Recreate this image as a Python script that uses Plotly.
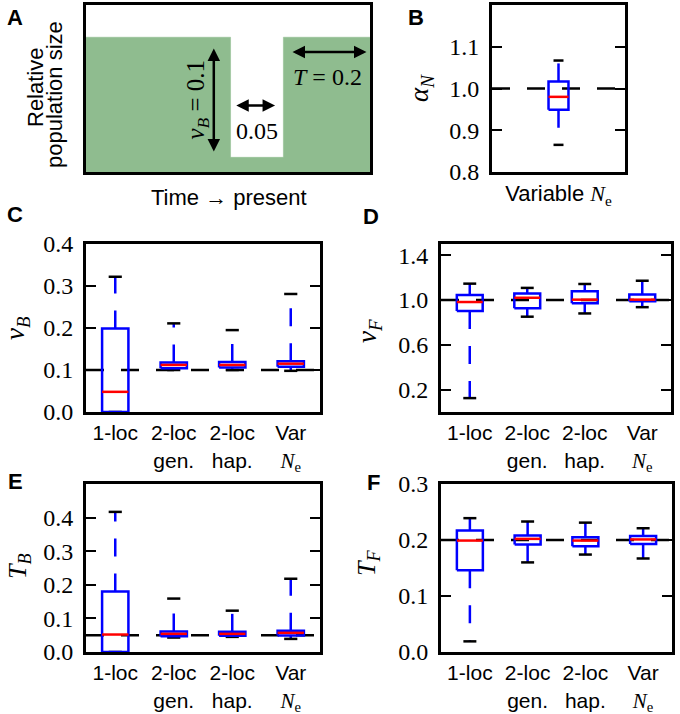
import plotly.graph_objects as go

W, H = 680, 714

# ---------------- data ----------------
# Panel A schematic (relative time, relative population size)
schem_time = [0.0, 0.509, 0.509, 0.695, 0.695, 1.0]
schem_size = [0.807, 0.807, 0.088, 0.088, 0.807, 0.807]

methods = ["1-loc", "2-loc<br>gen.", "2-loc<br>hap.",
           "Var<br><span style='font-family:Liberation Serif'><i>N</i><sub>e</sub></span>"]

# Panel B: alpha_N (single box)
alphaN_true = 1.0
alphaN_lo, alphaN_q1, alphaN_med, alphaN_q3, alphaN_hi = [0.865], [0.949], [0.980], [1.017], [1.067]

# Panel C: nu_B
nuB_true = 0.1
nuB_lo = [0.000, 0.100, 0.100, 0.098]
nuB_q1 = [0.000, 0.104, 0.106, 0.108]
nuB_med = [0.048, 0.112, 0.112, 0.115]
nuB_q3 = [0.199, 0.118, 0.119, 0.121]
nuB_hi = [0.322, 0.211, 0.195, 0.281]

# Panel D: nu_F
nuF_true = 1.0
nuF_lo = [0.124, 0.851, 0.880, 0.936]
nuF_q1 = [0.901, 0.927, 0.971, 0.988]
nuF_med = [0.982, 1.020, 1.003, 1.003]
nuF_q3 = [1.044, 1.058, 1.079, 1.050]
nuF_hi = [1.146, 1.108, 1.143, 1.172]

# Panel E: T_B
TB_true = 0.05
TB_lo = [0.000, 0.043, 0.045, 0.039]
TB_q1 = [0.000, 0.047, 0.048, 0.049]
TB_med = [0.052, 0.054, 0.054, 0.057]
TB_q3 = [0.180, 0.061, 0.060, 0.063]
TB_hi = [0.417, 0.159, 0.123, 0.218]

# Panel F: T_F
TF_true = 0.2
TF_lo = [0.019, 0.160, 0.174, 0.167]
TF_q1 = [0.146, 0.192, 0.189, 0.193]
TF_med = [0.199, 0.202, 0.199, 0.201]
TF_q3 = [0.217, 0.208, 0.205, 0.207]
TF_hi = [0.239, 0.233, 0.231, 0.221]

# ---------------- styles ----------------
SERIF = "Liberation Serif"
SANS = "Liberation Sans"
GREEN = "#8fbc8f"
BLUE = "#0000ff"
RED = "#ff0000"
LW = 2.5
DASH = "18px,17px"

fig = go.Figure()

def px_domain(x0, x1, y0, y1):
    return [x0 / W, x1 / W], [1 - y1 / H, 1 - y0 / H]

# pixel boxes of each panel (inner plot area)
panels = {
    "A": (86, 370, 5, 172),
    "B": (492, 625, 5, 172),
    "C": (86, 320, 244, 412),
    "D": (441, 671, 244, 412),
    "E": (86, 320, 484, 652),
    "F": (441, 672, 484, 652),
}

axis_ids = {"A": "", "B": "2", "C": "3", "D": "4", "E": "5", "F": "6"}

def ax_names(p):
    i = axis_ids[p]
    return "x" + i, "y" + i, "xaxis" + i, "yaxis" + i


def add_boxes(p, lo, q1, med, q3, hi, ref, width):
    xa, ya, _, _ = ax_names(p)
    n = len(med)
    pos = list(range(1, n + 1))
    # reference dashed line
    fig.add_trace(go.Scatter(x=[0.5, n + 0.5], y=[ref, ref], mode="lines",
                             line=dict(color="black", width=LW, dash=DASH),
                             xaxis=xa, yaxis=ya, hoverinfo="skip", showlegend=False))
    wx, wy = [], []
    bx, by = [], []
    cx, cy = [], []
    mx, my = [], []
    for k in range(n):
        c = pos[k]
        h = width / 2
        wx += [c, c, None, c, c, None]
        wy += [q3[k], hi[k], None, q1[k], lo[k], None]
        bx += [c - h, c + h, c + h, c - h, c - h, None]
        by += [q1[k], q1[k], q3[k], q3[k], q1[k], None]
        cx += [c - h / 2, c + h / 2, None, c - h / 2, c + h / 2, None]
        cy += [hi[k], hi[k], None, lo[k], lo[k], None]
        mx += [c - h, c + h, None]
        my += [med[k], med[k], None]
    fig.add_trace(go.Scatter(x=wx, y=wy, mode="lines", line=dict(color=BLUE, width=LW, dash=DASH),
                             xaxis=xa, yaxis=ya, hoverinfo="skip", showlegend=False))
    fig.add_trace(go.Scatter(x=cx, y=cy, mode="lines", line=dict(color="black", width=LW),
                             xaxis=xa, yaxis=ya, hoverinfo="skip", showlegend=False))
    fig.add_trace(go.Scatter(x=bx, y=by, mode="lines", line=dict(color=BLUE, width=LW),
                             xaxis=xa, yaxis=ya, hoverinfo="skip", showlegend=False))
    fig.add_trace(go.Scatter(x=mx, y=my, mode="lines", line=dict(color=RED, width=LW),
                             xaxis=xa, yaxis=ya, hoverinfo="skip", showlegend=False))

# ----- Panel A -----
fig.add_trace(go.Scatter(x=schem_time, y=schem_size, mode="lines", fill="tozeroy",
                         fillcolor=GREEN, line=dict(color=GREEN, width=0.5, shape="linear"),
                         xaxis="x", yaxis="y", hoverinfo="skip", showlegend=False))

add_boxes("B", alphaN_lo, alphaN_q1, alphaN_med, alphaN_q3, alphaN_hi, alphaN_true, 0.15)
add_boxes("C", nuB_lo, nuB_q1, nuB_med, nuB_q3, nuB_hi, nuB_true, 0.45)
add_boxes("D", nuF_lo, nuF_q1, nuF_med, nuF_q3, nuF_hi, nuF_true, 0.45)
add_boxes("E", TB_lo, TB_q1, TB_med, TB_q3, TB_hi, TB_true, 0.45)
add_boxes("F", TF_lo, TF_q1, TF_med, TF_q3, TF_hi, TF_true, 0.45)

layout = dict(width=W, height=H, margin=dict(l=0, r=0, t=0, b=0, autoexpand=False),
              template="none", font=dict(family=SANS, size=22, color="black"),
              paper_bgcolor="white", plot_bgcolor="white", showlegend=False)

yranges = {"A": [0, 1], "B": [0.8, 1.2], "C": [0, 0.4], "D": [0, 1.5], "E": [0, 0.5], "F": [0, 0.3]}
yticks = {"A": [], "B": [0.8, 0.9, 1.0, 1.1], "C": [0.0, 0.1, 0.2, 0.3, 0.4],
          "D": [0.2, 0.6, 1.0, 1.4], "E": [0.0, 0.1, 0.2, 0.3, 0.4], "F": [0.0, 0.1, 0.2, 0.3]}

for p, (x0, x1, y0, y1) in panels.items():
    xa, ya, xk, yk = ax_names(p)
    dx, dy = px_domain(x0, x1, y0, y1)
    common = dict(showline=True, linecolor="black", linewidth=3, mirror=True,
                  showgrid=False, zeroline=False, fixedrange=True, automargin=False)
    if p == "A":
        xr = [0, 1]
        xt = dict(showticklabels=False, ticks="")
    elif p == "B":
        xr = [0.5, 1.5]
        xt = dict(tickmode="array", tickvals=[1],
                  ticktext=["Variable <span style='font-family:Liberation Serif'><i>N</i><sub>e</sub></span>"],
                  ticks="", tickfont=dict(family=SANS, size=22, color="black"))
    else:
        xr = [0.5, 4.5]
        xt = dict(tickmode="array", tickvals=[1, 2, 3, 4], ticktext=methods,
                  ticks="", tickfont=dict(family=SANS, size=21, color="black"))
    layout[xk] = dict(domain=dx, range=xr, anchor=ya, **xt, **common)
    if p == "A":
        yt = dict(showticklabels=False, ticks="")
    else:
        yt = dict(tickmode="array", tickvals=yticks[p],
                  ticktext=["%.1f" % v for v in yticks[p]],
                  ticks="inside", ticklen=10, tickwidth=1.5, tickcolor="black",
                  ticklabelstandoff=5,
                  tickfont=dict(family=SERIF, size=24, color="black"))
    common_y = dict(common)
    common_y["mirror"] = "ticks" if p != "A" else True
    layout[yk] = dict(domain=dy, range=yranges[p], anchor=xa, **yt, **common_y)

fig.update_layout(**layout)

ann = []
# panel letters
for letter, (x, y) in {"A": (15, 17), "B": (416, 17), "C": (15, 214), "D": (371, 216),
                       "E": (15, 481), "F": (373, 482)}.items():
    ann.append(dict(text="<b>%s</b>" % letter, x=x / W, y=1 - y / H, xref="paper", yref="paper",
                    xanchor="center", yanchor="middle", showarrow=False,
                    font=dict(family=SANS, size=22, color="black")))

# axis titles (paper coords)
def title(text, x, y, family, size, angle=-90):
    ann.append(dict(text=text, x=x / W, y=1 - y / H, xref="paper", yref="paper",
                    xanchor="center", yanchor="middle", showarrow=False, textangle=angle,
                    font=dict(family=family, size=size, color="black")))

title("Relative", 35, 88, SANS, 22)
title("population size", 55, 95, SANS, 22)
title("Time → present", 229, 197, SANS, 22, angle=0)
title("<i>α<sub>N</sub></i>", 421, 88, SERIF, 27)
title("<i>ν<sub>B</sub></i>", 17, 328, SERIF, 27)
title("<i>ν<sub>F</sub></i>", 369, 331, SERIF, 27)
title("<i>T<sub>B</sub></i>", 19, 566, SERIF, 26)
title("<i>T<sub>F</sub></i>", 368, 563, SERIF, 26)

# Panel A arrows and labels (axis 'x','y' coordinates of schematic)
notch_l, notch_r = schem_time[1], schem_time[3]
bottom, top = schem_size[2], schem_size[0]
arrow = dict(xref="x", yref="y", axref="x", ayref="y", text="", showarrow=True,
             arrowside="end+start", arrowhead=2, arrowsize=1, arrowwidth=2.5, arrowcolor="black")
ann.append(dict(x=0.45, y=bottom + 0.035, ax=0.45, ay=top - 0.058, **arrow))
ann.append(dict(x=notch_l + 0.02, y=0.398, ax=notch_r - 0.024, ay=0.398, **arrow))
ann.append(dict(x=notch_r + 0.032, y=0.719, ax=0.993, ay=0.719, **arrow))
ann.append(dict(text="<i>ν<sub>B</sub></i> = 0.1", x=0.394, y=0.433, xref="x", yref="y",
                showarrow=False, textangle=-90, font=dict(family=SERIF, size=25, color="black")))
ann.append(dict(text="0.05", x=(notch_l + notch_r) / 2, y=0.246, xref="x", yref="y",
                showarrow=False, font=dict(family=SERIF, size=24, color="black")))
ann.append(dict(text="<i>T</i> = 0.2", x=0.851, y=0.567, xref="x", yref="y",
                showarrow=False, font=dict(family=SERIF, size=24, color="black")))

fig.update_layout(annotations=ann)
fig.write_html("out.html", config={"displayModeBar": False},
               post_script="document.body.style.margin='0';")
